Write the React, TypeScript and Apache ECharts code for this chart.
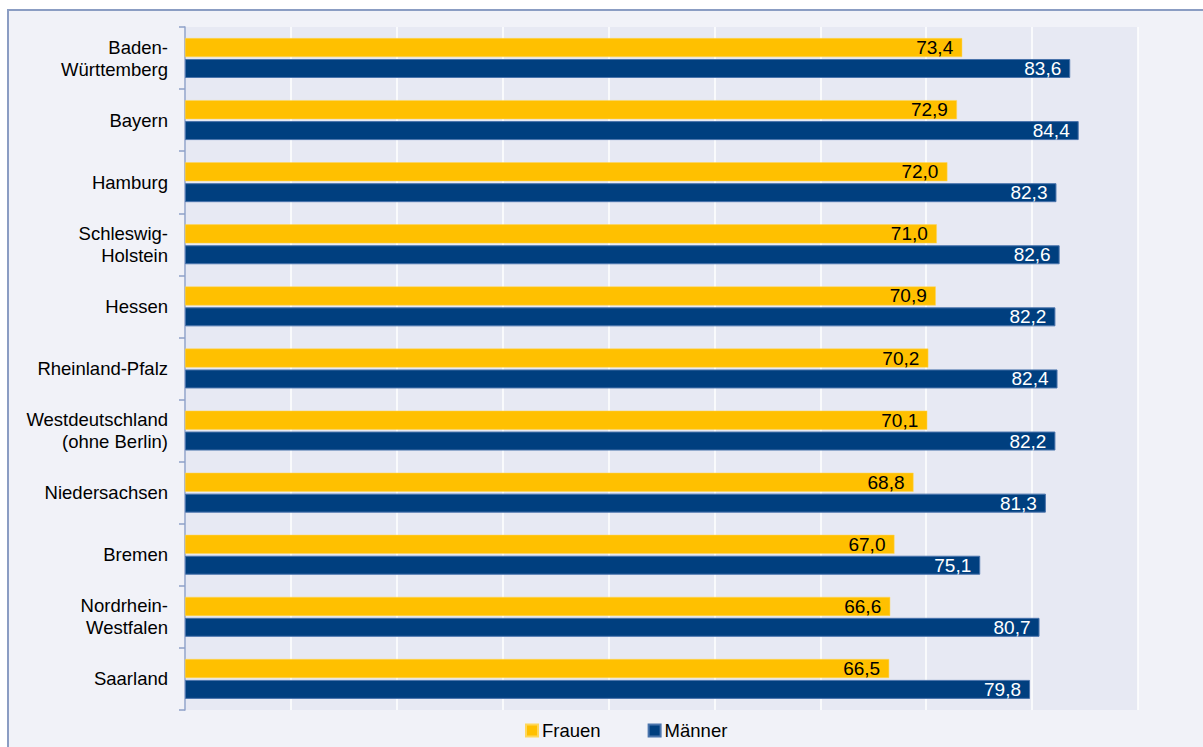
import React, { useEffect, useRef } from "react";
import * as echarts from "echarts";

const categories = [
  "Baden-\nWürttemberg",
  "Bayern",
  "Hamburg",
  "Schleswig-\nHolstein",
  "Hessen",
  "Rheinland-Pfalz",
  "Westdeutschland\n(ohne Berlin)",
  "Niedersachsen",
  "Bremen",
  "Nordrhein-\nWestfalen",
  "Saarland",
];
const frauen = [73.4, 72.9, 72.0, 71.0, 70.9, 70.2, 70.1, 68.8, 67.0, 66.6, 66.5];
const maenner = [83.6, 84.4, 82.3, 82.6, 82.2, 82.4, 82.2, 81.3, 75.1, 80.7, 79.8];
const seriesNames = ["Frauen", "Männer"];

const FONT = "Liberation Sans";
const FS = 18.5;
const fmt = (p: any) => Number(p.value).toFixed(1).replace(".", ",");

export default function App() {
  const ref = useRef<HTMLDivElement>(null);
  useEffect(() => {
    document.body.style.margin = "0";
    const chart = echarts.init(ref.current!, null, { renderer: "svg" });
    chart.setOption({
      animation: false,
      backgroundColor: "#ffffff",
      textStyle: { fontFamily: FONT, fontWeight: "normal" },
      graphic: [
        {
          type: "rect",
          z: -10,
          silent: true,
          shape: { x: 8, y: 10, width: 1210, height: 760 },
          style: { fill: "#f1f2f8", stroke: "#8b9dc3", lineWidth: 2 },
        },
      ],
      grid: {
        left: 185,
        right: 65,
        top: 27,
        bottom: 37,
        show: true,
        backgroundColor: "#e7e9f3",
        borderWidth: 0,
      },
      legend: {
        data: seriesNames,
        left: 525,
        top: 721,
        padding: 0,
        itemWidth: 12,
        itemHeight: 12,
        itemGap: 47,
        icon: "rect",
        textStyle: { fontSize: FS, color: "#000", fontFamily: FONT, fontWeight: "normal", padding: [0, 0, 0, -1] },
      },
      xAxis: {
        type: "value",
        min: 0,
        max: 90,
        interval: 10,
        axisLine: { show: false },
        axisTick: { show: false },
        axisLabel: { show: false },
        splitLine: { show: true, lineStyle: { color: "#ffffff", width: 1.5 } },
      },
      yAxis: {
        type: "category",
        data: categories,
        inverse: true,
        axisLine: { show: true, lineStyle: { color: "#8ea1c8", width: 1.5 } },
        axisTick: { show: true, length: 6, lineStyle: { color: "#8ea1c8", width: 1.5 } },
        axisLabel: {
          fontSize: FS,
          color: "#000",
          fontFamily: FONT,
          fontWeight: "normal",
          margin: 17,
          lineHeight: 22,
          align: "right",
        },
      },
      series: [
        {
          name: seriesNames[0],
          type: "bar",
          data: frauen,
          barWidth: 19,
          barGap: "10%",
          itemStyle: { color: "#ffc000", borderColor: "#ffd75a", borderWidth: 0.5 },
          label: {
            show: true,
            position: "insideRight",
            distance: 9,
            formatter: fmt,
            color: "#000",
            fontSize: 19,
            fontFamily: FONT,
            fontWeight: "normal",
          },
        },
        {
          name: seriesNames[1],
          type: "bar",
          data: maenner,
          barWidth: 19,
          barGap: "10%",
          itemStyle: { color: "#003f7f", borderColor: "#4a74ac", borderWidth: 1 },
          label: {
            show: true,
            position: "insideRight",
            distance: 9,
            formatter: fmt,
            color: "#fff",
            fontSize: 19,
            fontFamily: FONT,
            fontWeight: "normal",
          },
        },
      ],
    });
    return () => chart.dispose();
  }, []);
  return <div ref={ref} style={{ width: 1203, height: 747 }} />;
}
